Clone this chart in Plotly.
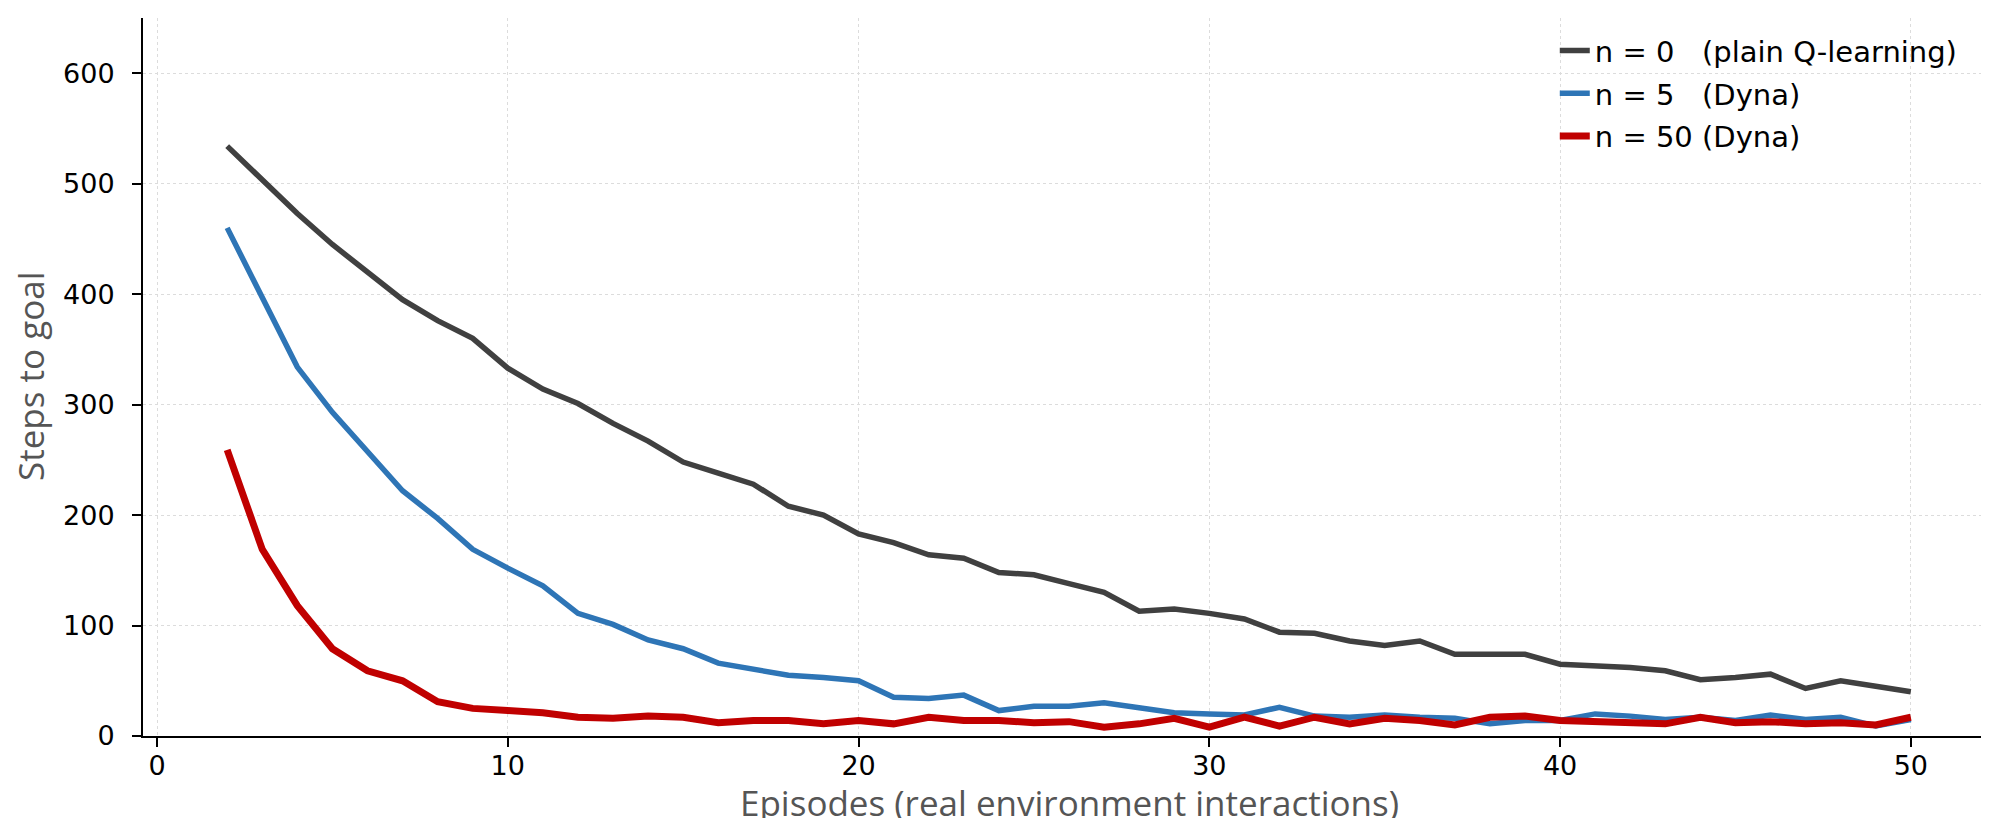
import plotly.graph_objects as go

episodes = list(range(2, 51))

steps_n0 = [534, 503, 473, 445, 420, 395, 376, 360, 333, 314, 301, 283, 267, 248, 238, 228,
            208, 200, 183, 175, 164, 161, 148, 146, 138, 130, 113, 115, 111, 106, 94, 93,
            86, 82, 86, 74, 74, 74, 65, 64, 62, 59, 51, 53, 56, 43, 50, 45, 40]

steps_n5 = [460, 396, 334, 293, 257, 222, 197, 169, 152, 136, 111, 101, 87, 79, 66, 60,
            55, 53, 50, 35, 34, 37, 23, 27, 27, 30, 26, 21, 20, 19, 26, 18,
            17, 19, 17, 16, 11, 14, 14, 20, 18, 15, 17, 14, 19, 15, 17, 9, 15]

steps_n50 = [259, 169, 118, 79, 59, 50, 31, 25, 23, 21, 17, 16, 18, 17, 12, 14,
             14, 11, 14, 11, 17, 14, 14, 12, 13, 8, 11, 16, 8, 17, 9, 17,
             11, 16, 14, 10, 17, 18, 14, 13, 13, 11, 17, 12, 13, 11, 12, 10, 17]

series_names = ["n = 0\u00a0\u00a0\u00a0(plain Q-learning)",
                "n = 5\u00a0\u00a0\u00a0(Dyna)",
                "n = 50 (Dyna)"]
series_colors = ["#404040", "#2E75B6", "#C00000"]
series_widths = [5.5, 5.5, 7]
series_values = [steps_n0, steps_n5, steps_n50]

x_ticks = [0, 10, 20, 30, 40, 50]
y_ticks = [0, 100, 200, 300, 400, 500, 600]

x_title = "Episodes (real environment interactions)"
y_title = "Steps to goal"

fig = go.Figure()
for i, (name, color, w, vals) in enumerate(zip(series_names, series_colors, series_widths, series_values)):
    fig.add_trace(go.Scatter(x=episodes, y=vals, mode="lines", name=name,
                             legendgroup=f"g{i}",
                             line=dict(color=color, width=w)))

axis_common = dict(
    showline=True, linecolor="black", linewidth=2,
    ticks="outside", ticklen=9, tickwidth=1.5, tickcolor="black",
    showgrid=True, gridcolor="#dcdcdc", griddash="dot", gridwidth=1,
    zeroline=False,
    tickfont=dict(family="DejaVu Sans", size=27, color="black"),
)

fig.update_xaxes(range=[-0.4, 52.4], tickvals=x_ticks, ticklabelstandoff=-4,
                 **axis_common)
fig.update_yaxes(range=[0, 650], tickvals=y_ticks, ticklabelstandoff=12,
                 **axis_common)

title_font = dict(family="Open Sans", size=35, color="#555555")
fig.add_annotation(text=x_title, xref="paper", yref="paper", x=0.5, y=0,
                   xanchor="center", yanchor="middle", yshift=-66,
                   showarrow=False, font=title_font)
fig.add_annotation(text=y_title, xref="paper", yref="paper", x=0, y=0.5,
                   xanchor="center", yanchor="middle", xshift=-113, textangle=-90,
                   showarrow=False, font=title_font)

fig.update_layout(
    width=1989, height=818,
    paper_bgcolor="white", plot_bgcolor="white",
    margin=dict(l=135, r=2, t=10, b=90),
    showlegend=True,
    legend=dict(x=0.7623, y=0.99, xanchor="left", yanchor="top",
                bgcolor="rgba(0,0,0,0)", borderwidth=0,
                font=dict(family="DejaVu Sans", size=29, color="black"),
                tracegroupgap=2),
)

fig.write_html("out.html")
